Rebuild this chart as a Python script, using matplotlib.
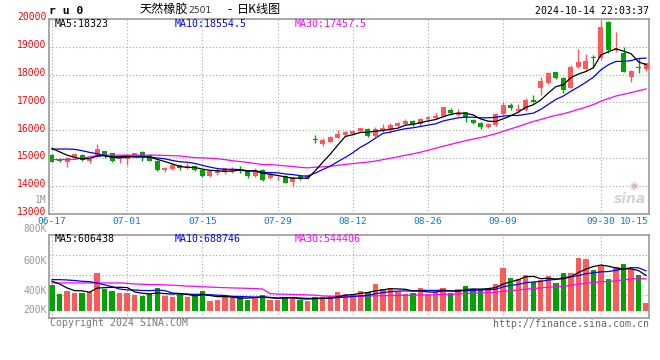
import matplotlib
matplotlib.use('Agg')
import matplotlib.pyplot as plt
import matplotlib.transforms as mtransforms
import numpy as np

# ---------------- data ----------------
dates = ['06-17','06-18','06-19','06-20','06-21','06-24','06-25','06-26','06-27','06-28',
         '07-01','07-02','07-03','07-04','07-05','07-08','07-09','07-10','07-11','07-12',
         '07-15','07-16','07-17','07-18','07-19','07-22','07-23','07-24','07-25','07-26',
         '07-29','07-30','07-31','08-01','08-02','08-05','08-06','08-07','08-08','08-09',
         '08-12','08-13','08-14','08-15','08-16','08-19','08-20','08-21','08-22','08-23',
         '08-26','08-27','08-28','08-29','08-30','09-02','09-03','09-04','09-05','09-06',
         '09-09','09-10','09-11','09-12','09-13','09-18','09-19','09-20','09-23','09-24',
         '09-25','09-26','09-27','09-30','10-08','10-09','10-10','10-11','10-14','10-15']

opens = [15104,14948,14864,15044,15104,14900,15044,15248,15164,14948,
         14972,15044,15212,15092,14888,14564,14600,14732,14648,14708,
         14564,14348,14444,14504,14528,14588,14528,14348,14564,14288,
         14300,14348,14144,14348,14264,15680,15500,15584,15728,15824,
         15848,15968,16028,15800,15980,16004,16160,16220,16328,16220,
         16400,16448,16508,16724,16544,16640,16364,16268,16100,16184,
         16580,16904,16700,16724,17072,17528,17684,18080,17888,17528,
         18284,18200,18620,18584,19880,18884,18764,17924,18260,18188]
highs = [15140,14984,15020,15164,15130,14960,15500,15260,15190,15000,
         15060,15190,15240,15130,14920,14690,14800,14760,14800,14740,
         14590,14560,14624,14650,14684,14708,14564,14624,14600,14480,
         14350,14380,14330,14370,14420,15824,15728,15788,16004,15980,
         16004,16090,16060,16124,16220,16244,16300,16390,16350,16450,
         16510,16604,16844,16784,16748,16660,16400,16300,16270,16600,
         17000,16960,16928,17144,17264,17924,18080,18104,17924,18344,
         18908,18740,18704,19964,19928,19544,19004,18164,18584,18428]
lows = [14840,14852,14684,14948,14880,14828,15020,14984,14870,14804,
        14744,15020,14900,14880,14530,14504,14560,14560,14590,14530,
        14320,14300,14384,14420,14470,14470,14290,14320,14170,14250,
        14200,14080,13964,14200,14240,15524,15440,15560,15700,15800,
        15820,15900,15770,15764,15950,15884,16120,16200,16150,16160,
        16300,16400,16480,16560,16500,16304,16220,16050,16060,16150,
        16560,16720,16604,16700,16964,17264,17660,17840,17324,17504,
        18248,18128,18248,18524,18764,18824,18080,17744,18044,18128]
closes = [14864,14900,14996,15140,14924,14948,15320,15080,14900,14984,
          15044,15164,15068,14900,14564,14648,14744,14624,14708,14564,
          14348,14528,14540,14624,14600,14528,14348,14564,14204,14420,
          14310,14108,14300,14228,14384,15660,15644,15764,15848,15944,
          15980,16064,15788,16028,16088,16184,16268,16328,16184,16388,
          16484,16520,16820,16628,16628,16424,16244,16100,16220,16568,
          16904,16784,16760,17084,17024,17780,18044,17888,17444,18284,
          18440,18488,18584,19724,18884,18944,18080,18128,18240,18404]
# volume in thousands of lots
volumes = [474,329,377,346,346,362,666,405,377,346,
           346,313,297,324,421,297,276,324,276,305,
           377,217,233,276,276,276,233,276,305,233,
           233,276,276,220,210,276,276,288,357,325,
           325,378,357,485,405,421,357,330,341,421,
           330,357,421,341,405,453,405,405,384,485,
           742,581,565,629,517,554,613,501,661,661,
           902,886,714,778,570,757,810,726,634,180]

ma5_head = [15340,15220,15100,15020]
ma10_head = [15320,15320,15320,15310,15260,15200,15150,15080,15020]
ma30_head = [14940,14940,14940,14950,14990,15040,15080,15100,15100,15100,
             15100,15100,15100,15100,15100,15090,15080,15070,15040,15010,
             15000,14990,14970,14940,14900,14870,14840,14800,14760]
vma5_head = [528,485,421,378]
vma10_head = [554,554,549,540,528,522,500,470,440]
vma30_head = [501,501,501,501,501,501,501,501,501,501,
              495,485,480,474,474,470,465,458,450,448,
              440,435,430,425,421,418,415,410,405]

x_tick_labels = ['06-17','07-01','07-15','07-29','08-12','08-26','09-09','09-30','10-15']
price_ticks = [13000,14000,15000,16000,17000,18000,19000,20000]
vol_tick_labels = ['1M','800K','600K','400K','200K']

title_code = 'r u 0'
title_name = '天然橡胶'
title_contract = '2501'
title_dash = '-'
title_kind = '日K线图'
timestamp = '2024-10-14 22:03:37'
ma_texts = ['MA5:18323', 'MA10:18554.5', 'MA30:17457.5']
vma_texts = ['MA5:606438', 'MA10:688746', 'MA30:544406']

# ---------------- helpers ----------------
def moving_avg(vals, n, head):
    vals = np.asarray(vals, float)
    out = np.empty(len(vals))
    out[:len(head)] = head
    for i in range(len(head), len(vals)):
        out[i] = vals[i - n + 1:i + 1].mean()
    return out

RED = '#ff5a5a'
GREEN = '#00a400'
GRID = '#a8a8a8'
BORDER = '#9a9a9a'
MONO = 'DejaVu Sans Mono'
CJK = ['Noto Sans CJK SC', 'DejaVu Sans']
W, H = 660, 360

fig = plt.figure(figsize=(6.6, 3.6), dpi=100)

def px_axes(left, top, right, bottom):
    return fig.add_axes([left / W, 1 - bottom / H, (right - left) / W, (bottom - top) / H])

def ftext(x, y, s, **kw):
    fig.text(x / W, 1 - y / H, s, **kw)

ax = px_axes(49, 19, 649, 213.5)
axv = px_axes(49, 235, 649, 318)

n = len(dates)
xs = np.arange(n)
o = np.array(opens, float); c = np.array(closes, float)
hi = np.array(highs, float); lo = np.array(lows, float)
up = c >= o
colors = np.where(up, RED, GREEN)

XLIM = (-0.4, 79.39)
tick_idx = [dates.index(t) for t in x_tick_labels]

for a in (ax, axv):
    a.set_xlim(*XLIM)
    for sp in a.spines.values():
        sp.set_color(BORDER)
        sp.set_linewidth(1.2)
    a.tick_params(length=0)
    a.set_xticks([])
    for t in tick_idx[:-1]:
        a.axvline(t, color=GRID, lw=0.8, ls=(0, (1, 2)), zorder=0)

# ---- main candle panel ----
ax.set_ylim(13000, 20000)
for v in price_ticks[1:-1]:
    ax.axhline(v, color=GRID, lw=0.8, ls=(0, (1, 2)), zorder=0)

ax.vlines(xs, lo, hi, colors=colors, lw=1.0, zorder=2)
body_lo = np.minimum(o, c)
body_h = np.maximum(np.abs(c - o), 30)
ax.bar(xs, body_h, bottom=body_lo, width=0.66, color=colors, linewidth=0, zorder=3)

ma5 = moving_avg(closes, 5, ma5_head)
ma10 = moving_avg(closes, 10, ma10_head)
ma30 = moving_avg(closes, 30, ma30_head)
ax.plot(xs, ma30, color='#ff00ff', lw=0.9, zorder=4)
ax.plot(xs, ma10, color='#0000ff', lw=0.9, zorder=4)
ax.plot(xs, ma5, color='#000000', lw=0.9, zorder=5)

ax.set_yticks(price_ticks)
ax.set_yticklabels([str(v) for v in price_ticks], fontfamily=MONO, fontsize=7, color='#ff0000')
ax.tick_params(axis='y', pad=2)
off = mtransforms.ScaledTranslation(0, 2.5 / 100, fig.dpi_scale_trans)
for lab in ax.get_yticklabels():
    lab.set_transform(lab.get_transform() + off)

# sina watermark
ax.text(0.995, 0.04, 'sina', transform=ax.transAxes, ha='right', va='bottom',
        fontsize=10, fontweight='bold', fontstyle='italic', color='#d4d4d4', zorder=1)
ax.text(0.975, 0.115, '◉', transform=ax.transAxes, ha='center', va='bottom',
        fontsize=7, color='#e6b0b0', zorder=1)

# ---- volume panel ----
VMIN, VMAX = -61, 1270
axv.set_ylim(VMIN, VMAX)
vol = np.array(volumes, float)
base = 52
axv.bar(xs, vol - base, bottom=base, width=0.72, color=colors, linewidth=0, zorder=2)
vma5 = moving_avg(volumes, 5, vma5_head)
vma10 = moving_avg(volumes, 10, vma10_head)
vma30 = moving_avg(volumes, 30, vma30_head)
axv.plot(xs, vma30, color='#ff00ff', lw=0.9, zorder=4)
axv.plot(xs, vma10, color='#0000ff', lw=0.9, zorder=4)
axv.plot(xs, vma5, color='#000000', lw=0.9, zorder=5)
axv.set_yticks([])
for f in (0.277, 0.518, 0.759):
    axv.plot([0, 1], [f, f], transform=axv.transAxes, color=GRID, lw=0.8, ls=(0, (1, 2)), zorder=0)

# ---- x labels ----
for lab, t in zip(x_tick_labels, tick_idx):
    xpix = 49 + (t - XLIM[0]) / (XLIM[1] - XLIM[0]) * 600
    ha = 'center'
    if t == tick_idx[-1]:
        xpix = 649; ha = 'right'
    ftext(xpix, 221.5, lab, ha=ha, va='center', fontfamily=MONO, fontsize=6.8, color='#0a78d6')

# ---- volume labels ----
for lab, y in zip(vol_tick_labels, [200, 229.5, 260.7, 290.7, 309.7]):
    ftext(47, y, lab, ha='right', va='center', fontfamily=MONO, fontsize=7, color='#9a9a9a')

# ---- headers ----
ftext(49, 11, title_code, ha='left', va='center', fontfamily=MONO, fontsize=8.2,
      fontweight='bold', color='#000000')
ftext(140, 9.5, title_name, ha='left', va='center', fontfamily=CJK,
      fontsize=8.7, color='#000000')
ftext(188.5, 10.5, title_contract, ha='left', va='center', fontfamily='DejaVu Sans',
      fontsize=6.7, color='#333333')
ftext(230, 9.5, title_dash, ha='center', va='center', fontfamily=CJK,
      fontsize=8.7, color='#000000')
ftext(236.5, 9.5, title_kind, ha='left', va='center', fontfamily=CJK,
      fontsize=8.7, color='#000000')
ftext(649, 11, timestamp, ha='right', va='center', fontfamily=MONO, fontsize=7.1, color='#000000')

for s, x, col in zip(ma_texts, [55, 174.5, 295], ['#000000', '#0000ff', '#ff00ff']):
    ftext(x, 24, s, ha='left', va='center', fontfamily=MONO, fontsize=7.1, color=col)
for s, x, col in zip(vma_texts, [55, 174.5, 295], ['#000000', '#0000ff', '#ff00ff']):
    ftext(x, 239.5, s, ha='left', va='center', fontfamily=MONO, fontsize=7.1, color=col)

ftext(50, 323.5, 'Copyright 2024 SINA.COM', ha='left', va='center', fontfamily=MONO,
      fontsize=7.1, color='#777777')
ftext(649, 323.7, 'http://finance.sina.com.cn', ha='right', va='center', fontfamily=MONO,
      fontsize=7.1, color='#666666')

fig.savefig('out.png', dpi=100)
